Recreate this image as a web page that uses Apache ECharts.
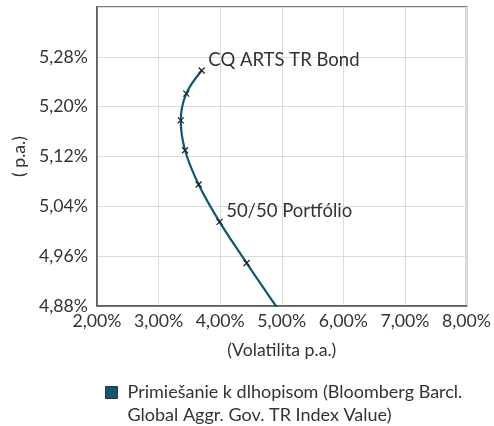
<!DOCTYPE html>
<html><head><meta charset="utf-8">
<script src="https://cdn.jsdelivr.net/npm/echarts@6/dist/echarts.min.js"></script>
<style>html,body{margin:0;padding:0;background:#fff}#c{width:494px;height:426px}</style>
</head><body><div id="c"></div>
<script>
var volatility = [3.70, 3.45, 3.36, 3.43, 3.65, 3.99, 4.43, 4.92];
var returns = [5.258, 5.221, 5.178, 5.130, 5.075, 5.015, 4.949, 4.878];
var pointLabels = ['CQ ARTS TR Bond', '', '', '', '', '50/50 Portfólio', '', ''];
var seriesName = 'Primiešanie k dlhopisom (Bloomberg Barcl.\nGlobal Aggr. Gov. TR Index Value)';
var xAxisName = '(Volatilita p.a.)';
var yAxisName = '( p.a.)';

var fmt = function (v) { return v.toFixed(2).replace('.', ',') + '%'; };
var data = volatility.map(function (x, i) {
  var d = { value: [x, returns[i]] };
  if (pointLabels[i]) d.label = { show: true, formatter: pointLabels[i] };
  return d;
});
var chart = echarts.init(document.getElementById('c'));
var font = 'Lato';
var fs = 17.7;
chart.setOption({
  animation: false,
  textStyle: { fontFamily: font },
  grid: { left: 97, right: 27, top: 7, bottom: 120, show: true, borderColor: '#555', borderWidth: 1.5, backgroundColor: 'transparent' },
  xAxis: {
    type: 'value', min: 2, max: 8, interval: 1,
    name: xAxisName, nameLocation: 'middle', nameGap: 35,
    nameTextStyle: { fontSize: fs, color: '#333', fontFamily: font },
    axisLine: { show: true, lineStyle: { color: '#555', width: 1.5 } },
    axisTick: { show: false },
    axisLabel: { formatter: fmt, fontSize: fs, color: '#333', margin: 6, fontFamily: font },
    splitLine: { show: true, lineStyle: { color: '#dcdcdc', width: 1 } }
  },
  yAxis: {
    type: 'value', min: 4.88, max: 5.36, interval: 0.08,
    name: yAxisName, nameLocation: 'middle', nameGap: 68, nameRotate: 90,
    nameTextStyle: { fontSize: fs, color: '#333', fontFamily: font },
    axisLine: { show: true, lineStyle: { color: '#555', width: 1.5 } },
    axisTick: { show: false },
    axisLabel: { formatter: fmt, fontSize: fs, color: '#333', margin: 9, showMaxLabel: false, fontFamily: font },
    splitLine: { show: true, lineStyle: { color: '#dcdcdc', width: 1 } }
  },
  legend: {
    left: 100, top: 376, itemWidth: 12, itemHeight: 34, itemGap: 8,
    icon: 'path://M0,0L12,0L12,12L0,12Z M0,34',
    textStyle: { fontSize: 18, color: '#333', lineHeight: 22.5, fontFamily: font, padding: [0, 0, 0, 5] },
    data: [{ name: seriesName, itemStyle: { color: '#0f5870', borderColor: '#333', borderWidth: 1 } }]
  },
  series: [{
    name: seriesName, type: 'line', smooth: 0.35, clip: true,
    data: data,
    symbol: 'path://M0,0L10,10M10,0L0,10', symbolSize: 6,
    lineStyle: { color: '#0f5870', width: 2.2 },
    itemStyle: { color: '#0f5870', borderColor: '#222', borderWidth: 1.2 },
    label: { position: 'right', fontSize: 18.5, color: '#333', distance: 3, fontFamily: font, offset: [0, -10.5] }
  }]
});
</script></body></html>
